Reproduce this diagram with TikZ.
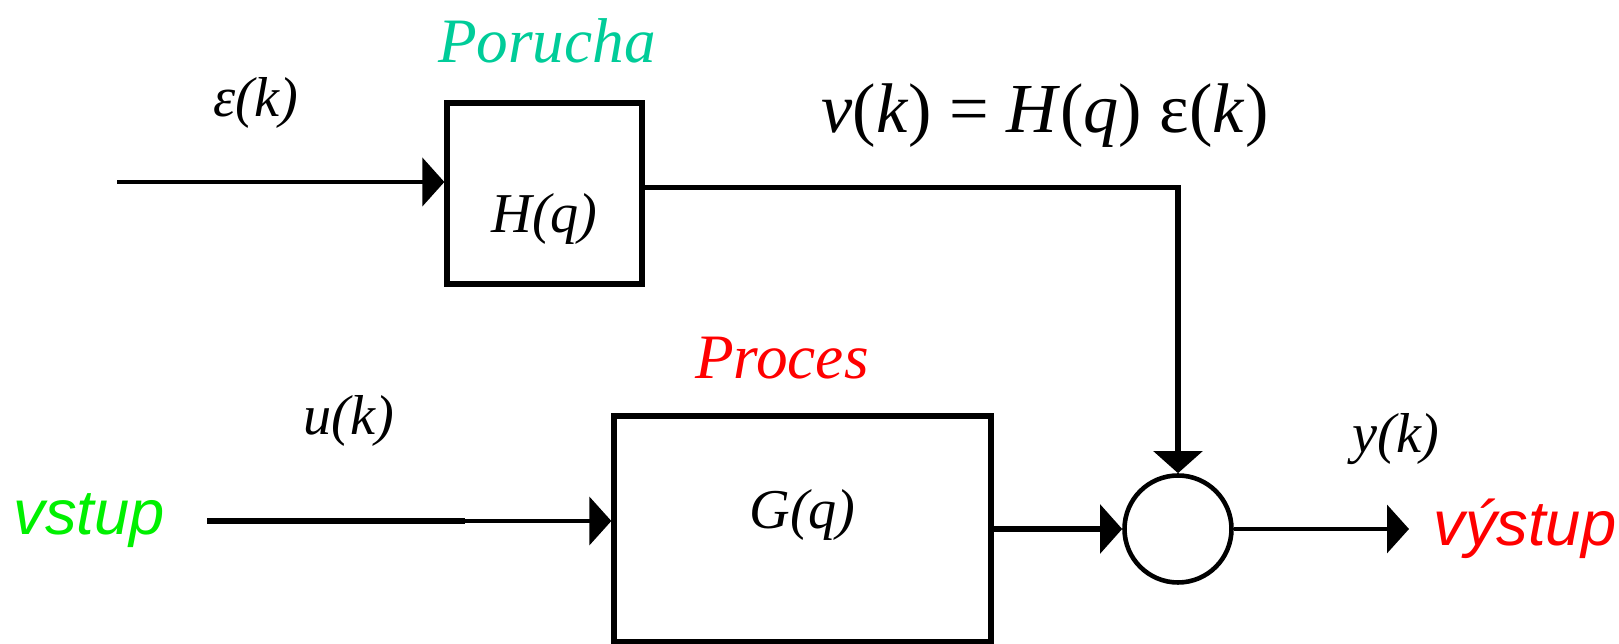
\documentclass[tikz,border=0pt]{standalone}
\usepackage{fontspec}
\setmainfont{Liberation Serif}
\newfontfamily\arialfont{Liberation Sans}
\usetikzlibrary{arrows.meta,positioning}
\definecolor{poruchacol}{RGB}{0,204,153}
\definecolor{vstupcol}{RGB}{0,240,0}
\definecolor{vystupcol}{RGB}{255,0,0}

\begin{document}
\begin{tikzpicture}[>={Triangle[length=2.2mm,width=4.8mm]},
    blok/.style={draw, line width=1.5pt, inner sep=0pt},
    signal/.style={font=\fontsize{16}{18}\selectfont\itshape},
    nazev/.style={font=\fontsize{18}{20}\selectfont\itshape}]
    \useasboundingbox (0,0) rectangle (16.19,6.44);
    % bloky
    \node[blok, signal, minimum width=1.95cm, minimum height=1.81cm, text height=0.9cm, text depth=0.12cm] (hbox) at (5.445,4.505) {H(q)};
    \node[blok, signal, minimum width=3.77cm, minimum height=2.26cm, text height=0.3cm, text depth=0.3cm] (gbox) at (8.025,1.15) {G(q)};
    \node[draw, circle, line width=1.3pt, minimum size=1.07cm, inner sep=0pt] (sum) at (11.78,1.15) {};
    % popisky
    \node[nazev, text=poruchacol] (porucha) at (5.47,6.03) {Porucha};
    \node[nazev, text=vystupcol] (proces) at (7.82,2.86) {Proces};
    \node[signal] (eps) at (2.56,5.41) {ε(k)};
    \node[signal, font=\fontsize{20}{22}\selectfont] (vk) at (10.45,5.28) {\textit{v}(\textit{k}) = \textit{H}(\textit{q}) ε(\textit{k})};
    \node[signal] (uk) at (3.49,2.23) {u(k)};
    \node[signal] (yk) at (13.96,2.05) {y(k)};
    % signaly
    \coordinate (epsin) at (1.17,4.62);
    \coordinate (uin) at (2.07,1.23);
    \coordinate (ulom) at (4.65,1.23);
    \coordinate (yout) at (14.09,1.15);
    \node[font=\arialfont\fontsize{18}{20}\selectfont\itshape, text=vstupcol, left=0.3cm of uin] (vstup) {vstup};
    \node[font=\arialfont\fontsize{18}{20}\selectfont\itshape, text=vystupcol, right=0.12cm of yout] (vystup) {výstup};
    \draw[->, line width=1.3pt] (epsin) -- (epsin -| hbox.west);
    \draw[->, line width=1.6pt] ([yshift=0.06cm]hbox.east) -| (sum.north);
    \draw[line width=1.6pt] (uin) -- (ulom);
    \draw[->, line width=1.1pt] (ulom) -- (ulom -| gbox.west);
    \draw[->, line width=1.6pt] (gbox.east) -- (sum.west);
    \draw[->, line width=1.1pt] (sum.east) -- (yout);
\end{tikzpicture}
\end{document}
